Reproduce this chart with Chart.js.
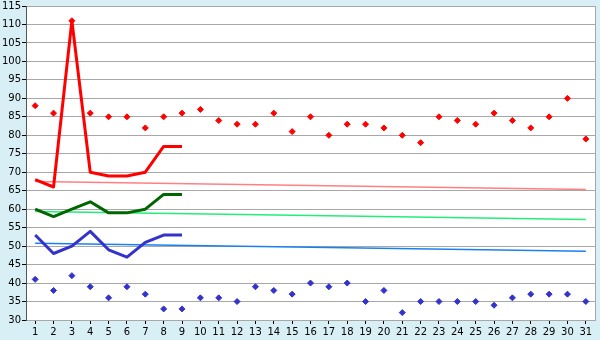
<!DOCTYPE html>
<html>
<head>
<meta charset="UTF-8">
<title>Chart</title>
<script src="https://cdn.jsdelivr.net/npm/chart.js"></script>
<style>
  html, body { margin: 0; padding: 0; background: #d9eff6; }
  #wrap { width: 600px; height: 340px; }
</style>
</head>
<body>
<div id="wrap"><canvas id="chart" width="600" height="340"></canvas></div>
<script>
// jours du mois
const days = ['1','2','3','4','5','6','7','8','9','10','11','12','13','14','15','16',
              '17','18','19','20','21','22','23','24','25','26','27','28','29','30','31'];

// points rouges (haut) et bleus (bas)
const redPoints  = [88,86,111,86,85,85,82,85,86,87,84,83,83,86,81,85,80,83,83,82,80,78,85,84,83,86,84,82,85,90,79];
const bluePoints = [41,38,42,39,36,39,37,33,33,36,36,35,39,38,37,40,39,40,35,38,32,35,35,35,35,34,36,37,37,37,35];

// courbes épaisses, jours 1 à 9
const redLine   = [68,66,111,70,69,69,70,77,77];
const greenLine = [60,58,60,62,59,59,60,64,64];
const blueLine  = [53,48,50,54,49,47,51,53,53];

// droites fines : valeur au jour 1 et au jour 31
const pinkTrend  = [67.5, 65.3];
const lgreenTrend = [59.4, 57.2];
const lblueTrend = [50.8, 48.6];

const yTicks = { min: 30, max: 115, step: 5 };

function trend(ends) {
  const arr = days.map(() => null);
  arr[0] = ends[0];
  arr[days.length - 1] = ends[1];
  return arr;
}

const bgPlugin = {
  id: 'bg',
  beforeDraw(chart) {
    const c = chart.ctx, a = chart.chartArea;
    c.save();
    c.fillStyle = '#d9eff6';
    c.fillRect(0, 0, chart.width, chart.height);
    c.fillStyle = '#ffffff';
    c.fillRect(a.left, a.top, a.right - a.left, a.bottom - a.top);
    c.restore();
  },
  afterDraw(chart) {
    const c = chart.ctx, a = chart.chartArea;
    c.save();
    c.strokeStyle = '#a8a8a8';
    c.lineWidth = 1;
    c.beginPath();
    c.moveTo(Math.round(a.right) + 0.5, a.top);
    c.lineTo(Math.round(a.right) + 0.5, a.bottom);
    c.stroke();
    c.restore();
  }
};

const thick = (data, color, order) => ({
  data: data, borderColor: color, backgroundColor: color,
  borderWidth: 3, borderJoinStyle: 'round', pointRadius: 0, tension: 0, fill: false, order: order
});
const thin = (ends, color) => ({
  data: trend(ends), borderColor: color, borderWidth: 1.5,
  pointRadius: 0, spanGaps: true, fill: false, order: 5
});
const dots = (data, color) => ({
  data: data, showLine: false, pointStyle: 'rectRot', pointRadius: 3,
  pointBorderWidth: 1, pointBackgroundColor: color, pointBorderColor: color, order: 1
});

new Chart(document.getElementById('chart'), {
  type: 'line',
  data: {
    labels: days,
    datasets: [
      thin(pinkTrend, '#ff8080'),
      thin(lgreenTrend, '#22ee77'),
      thin(lblueTrend, '#1a80f0'),
      thick(redLine, '#ff0000', 3),
      thick(greenLine, '#006600', 3),
      thick(blueLine, '#3333cc', 3),
      dots(redPoints, '#ff0000'),
      dots(bluePoints, '#3333cc')
    ]
  },
  options: {
    responsive: false,
    animation: false,
    layout: { padding: { top: 0, right: 5, left: 0, bottom: 0 } },
    plugins: { legend: { display: false }, tooltip: { enabled: false } },
    scales: {
      x: {
        offset: true,
        grid: { display: true, drawOnChartArea: false, offset: false, tickLength: 4, tickColor: '#000' },
        border: { color: '#a8a8a8' },
        ticks: { color: '#000', font: { family: 'DejaVu Sans', size: 10 }, padding: 2, maxRotation: 0, autoSkip: false },
        afterFit(s) { s.height = 20; }
      },
      y: {
        min: yTicks.min, max: yTicks.max,
        grid: { color: '#a8a8a8', tickLength: 4, tickColor: '#000' },
        border: { color: '#555' },
        ticks: { stepSize: yTicks.step, color: '#000', font: { family: 'DejaVu Sans', size: 10, lineHeight: 1 }, padding: 1 },
        afterFit(s) { s.width = 26; }
      }
    }
  },
  plugins: [bgPlugin]
});
</script>
</body>
</html>
